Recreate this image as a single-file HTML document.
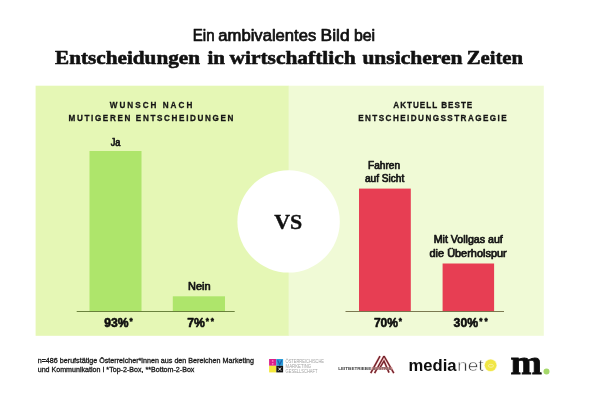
<!DOCTYPE html>
<html lang="de">
<head>
<meta charset="utf-8">
<title>Ein ambivalentes Bild bei Entscheidungen in wirtschaftlich unsicheren Zeiten</title>
<style>
html,body{margin:0;padding:0;background:#fff;}
body{width:600px;height:400px;overflow:hidden;}
svg{display:block;}
.sans{font-family:"Liberation Sans","DejaVu Sans",sans-serif;}
.serif{font-family:"Liberation Serif","DejaVu Serif",serif;}
</style>
</head>
<body>
<svg width="600" height="400" viewBox="0 0 600 400">
  <defs>
    <filter id="soft" x="-10%" y="-10%" width="120%" height="120%"><feGaussianBlur stdDeviation="0.6"/></filter>
  </defs>
  <rect width="600" height="400" fill="#ffffff"/>

  <!-- panels -->
  <g filter="url(#soft)">
    <rect x="35.6" y="85.7" width="253.4" height="250.1" fill="#e5f7b5"/>
    <rect x="288.6" y="85.7" width="255.2" height="250.1" fill="#f0fad6"/>
  </g>
  <circle cx="288.6" cy="221.4" r="51.2" fill="#ffffff" filter="url(#soft)"/>

  <!-- title -->
  <g class="sans" font-size="16" fill="#111" stroke="#111" stroke-width="0.7" stroke-linejoin="round">
    <text x="192.8" y="40.6" textLength="21.8" lengthAdjust="spacingAndGlyphs">Ein</text>
    <text x="218.3" y="40.6" textLength="98" lengthAdjust="spacingAndGlyphs">ambivalentes</text>
    <text x="320.6" y="40.6" textLength="29" lengthAdjust="spacingAndGlyphs">Bild</text>
    <text x="353.9" y="40.6" textLength="21.2" lengthAdjust="spacingAndGlyphs">bei</text>
  </g>
  <g class="serif" font-size="19.6" font-weight="700" fill="#111" stroke="#111" stroke-width="0.6" stroke-linejoin="round">
    <text x="55" y="63.9" textLength="145" lengthAdjust="spacingAndGlyphs">Entscheidungen</text>
    <text x="207.5" y="63.9" textLength="17.5" lengthAdjust="spacingAndGlyphs">in</text>
    <text x="229.5" y="63.9" textLength="126.2" lengthAdjust="spacingAndGlyphs">wirtschaftlich</text>
    <text x="362.4" y="63.9" textLength="100.1" lengthAdjust="spacingAndGlyphs">unsicheren</text>
    <text x="466.7" y="63.9" textLength="56.3" lengthAdjust="spacingAndGlyphs">Zeiten</text>
  </g>

  <!-- headings -->
  <g class="sans" font-weight="700" font-size="9.7" fill="#141414" stroke="#141414" stroke-width="0.3">
    <text transform="translate(109.8,107.7) scale(0.84,1)" textLength="98.2" lengthAdjust="spacing">WUNSCH NACH</text>
    <text transform="translate(68.5,120.7) scale(0.84,1)" textLength="196.4" lengthAdjust="spacing">MUTIGEREN ENTSCHEIDUNGEN</text>
    <text transform="translate(393.3,107.7) scale(0.84,1)" textLength="94.0" lengthAdjust="spacing">AKTUELL BESTE</text>
    <text transform="translate(358.2,120.7) scale(0.84,1)" textLength="176.8" lengthAdjust="spacing">ENTSCHEIDUNGSSTRAGEGIE</text>
  </g>

  <!-- left bars -->
  <rect x="89.5" y="151" width="52" height="160.4" fill="#aee56b"/>
  <rect x="172.8" y="296.3" width="52.2" height="15.1" fill="#aee56b"/>
  <rect x="76.7" y="311" width="158" height="0.9" fill="#5d7430"/>

  <!-- right bars -->
  <rect x="359" y="188.6" width="51.8" height="122.8" fill="#e73e53"/>
  <rect x="442.6" y="263.5" width="51.5" height="47.9" fill="#e73e53"/>
  <rect x="345.5" y="311" width="158.5" height="0.9" fill="#6e6a42"/>

  <!-- bar labels -->
  <g class="sans" font-size="10.2" fill="#161616" stroke="#161616" stroke-width="0.7" stroke-linejoin="round">
    <text x="110.7" y="145.8" textLength="9.7" lengthAdjust="spacingAndGlyphs">Ja</text>
    <text x="188" y="289.8" textLength="22.5" lengthAdjust="spacingAndGlyphs">Nein</text>
    <text x="368" y="168.7" textLength="32" lengthAdjust="spacingAndGlyphs">Fahren</text>
    <text x="365" y="182" textLength="39.2" lengthAdjust="spacingAndGlyphs">auf Sicht</text>
    <text x="433.7" y="243" textLength="69.1" lengthAdjust="spacingAndGlyphs">Mit Vollgas auf</text>
    <text x="429.5" y="256.5" textLength="77.2" lengthAdjust="spacingAndGlyphs">die Überholspur</text>
  </g>

  <!-- values -->
  <g class="sans" font-size="13.3" font-weight="700" fill="#0d0d0d" stroke="#0d0d0d" stroke-width="0.6" stroke-linejoin="round">
    <text x="104.3" y="327.3" textLength="24.3" lengthAdjust="spacingAndGlyphs">93%</text>
    <text x="187.2" y="327.3" textLength="17.6" lengthAdjust="spacingAndGlyphs">7%</text>
    <text x="373.9" y="327.3" textLength="24.1" lengthAdjust="spacingAndGlyphs">70%</text>
    <text x="453.6" y="327.3" textLength="24.5" lengthAdjust="spacingAndGlyphs">30%</text>
  </g>
  <g class="sans" font-size="8.2" font-weight="700" fill="#0d0d0d" stroke="#0d0d0d" stroke-width="0.5">
    <text x="129.5" y="324.4">*</text>
    <text x="205.7" y="324.4" textLength="8.2" lengthAdjust="spacing">**</text>
    <text x="398.8" y="324.4">*</text>
    <text x="479.2" y="324.4" textLength="8.4" lengthAdjust="spacing">**</text>
  </g>

  <!-- footnote -->
  <g class="sans" font-size="6.6" fill="#1c1c1c" stroke="#1c1c1c" stroke-width="0.3">
    <text x="37.7" y="363" textLength="216.3" lengthAdjust="spacingAndGlyphs">n=486 berufstätige Österreicher*innen aus den Bereichen Marketing</text>
    <text x="37.7" y="371.6" textLength="156.7" lengthAdjust="spacingAndGlyphs">und Kommunikation I *Top-2-Box, **Bottom-2-Box</text>
  </g>

  <!-- VS -->
  <text class="serif" x="274.3" y="228.8" font-size="22" font-weight="700" fill="#111" textLength="28" lengthAdjust="spacingAndGlyphs" stroke="#111" stroke-width="0.4">VS</text>

  <!-- logo 1: Oesterreichische Marketing Gesellschaft -->
  <g>
    <rect x="269.1" y="359" width="7.2" height="6.8" fill="#d91f8a"/>
    <rect x="276.3" y="359" width="6.8" height="6.8" fill="#2b9bd8"/>
    <rect x="269.1" y="365.8" width="7.2" height="6.6" fill="#f4e83c"/>
    <rect x="276.3" y="365.8" width="6.8" height="6.6" fill="#141414"/>
    <circle cx="272.7" cy="360.9" r="0.9" fill="#ff7fc4"/>
    <circle cx="272.7" cy="363.8" r="0.9" fill="#ff7fc4"/>
    <path d="M277.6 360.2 L279.7 364.8 L281.8 360.2" stroke="#1b5fa8" stroke-width="1.2" fill="none"/>
    <path d="M278.3 367.6 L281.1 370.6 M281.1 367.6 L278.3 370.6" stroke="#ffffff" stroke-width="0.9" fill="none"/>
    <g class="sans" font-size="5.2" fill="#a2a2a2">
      <text x="285.6" y="363.2" textLength="38.4" lengthAdjust="spacingAndGlyphs">ÖSTERREICHISCHE</text>
      <text x="285.6" y="367.8" textLength="25.6" lengthAdjust="spacingAndGlyphs">MARKETING</text>
      <text x="285.6" y="372.6" textLength="31.9" lengthAdjust="spacingAndGlyphs">GESELLSCHAFT</text>
    </g>
  </g>

  <!-- logo 2: Leitbetriebe Austria -->
  <g>
    <path d="M370.7 373.2 L380 356.2 M374.6 373.2 L384 356 M384 356 L393.8 373.2 M380.3 367.2 L384 361 L389 372.6" stroke="#f0a3a0" stroke-width="2.4" fill="none" opacity="0.55"/>
    <path d="M370.7 373.2 L380 356.2 M374.6 373.2 L384 356 M384 356 L393.8 373.2 M380.3 367.2 L384 361 L389 372.6" stroke="#73222b" stroke-width="1.45" fill="none"/>
    <rect x="371.6" y="367.1" width="20.6" height="2.6" fill="#c9888a" opacity="0.9"/>
    <text class="sans" x="338.2" y="369.6" font-size="3.9" font-weight="700" fill="#3c3c3c" textLength="33" lengthAdjust="spacingAndGlyphs">LEITBETRIEBE</text>
    <text class="sans" x="372.6" y="369.5" font-size="3.4" font-weight="700" fill="#77595b" textLength="18.6" lengthAdjust="spacingAndGlyphs">AUSTRIA</text>
  </g>

  <!-- logo 3: medianet -->
  <g>
    <text class="sans" x="408.5" y="370.7" font-size="17.2" font-weight="700" fill="#0e0e0e" textLength="48" lengthAdjust="spacingAndGlyphs">media</text>
    <text class="sans" x="457" y="370.7" font-size="17.2" fill="#3a3a3a" stroke="#ffffff" stroke-width="0.55" textLength="26.6" lengthAdjust="spacingAndGlyphs">net</text>
    <circle cx="490.6" cy="365.3" r="6.4" fill="#f8f3a0" opacity="0.6"/>
    <circle cx="490.6" cy="365.3" r="5.8" fill="#f1e645"/>
    <ellipse cx="490.9" cy="365.8" rx="2.6" ry="1.5" fill="none" stroke="#f8f2a4" stroke-width="0.9"/>
  </g>

  <!-- logo 4: m. -->
  <g>
    <text class="serif" x="510.4" y="374.2" font-size="34" font-weight="700" fill="#0c0c0c" stroke="#0c0c0c" stroke-width="0.8" textLength="31.4" lengthAdjust="spacingAndGlyphs">m</text>
    <circle cx="546.5" cy="371.5" r="3" fill="#a5d86a"/>
  </g>
</svg>
</body>
</html>
